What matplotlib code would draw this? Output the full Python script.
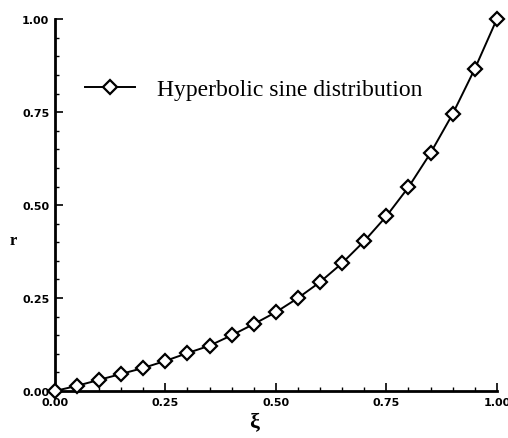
import matplotlib.pyplot as plt
import numpy as np

xi = [0.00, 0.05, 0.10, 0.15, 0.20, 0.25, 0.30, 0.35, 0.40, 0.45, 0.50,
      0.55, 0.60, 0.65, 0.70, 0.75, 0.80, 0.85, 0.90, 0.95, 1.00]
r = [0.000, 0.014, 0.030, 0.046, 0.062, 0.081, 0.102, 0.122, 0.150, 0.180, 0.212,
     0.250, 0.293, 0.344, 0.403, 0.470, 0.548, 0.640, 0.745, 0.866, 1.000]
ticks = [0.00, 0.25, 0.50, 0.75, 1.00]
tick_labels = ['0.00', '0.25', '0.50', '0.75', '1.00']

fig = plt.figure(figsize=(5.08, 4.39), dpi=100)
ax = fig.add_axes([0.108, 0.107, 0.870, 0.847])

ax.plot(xi, r, color='black', lw=1.4, marker='D', markersize=7,
        markerfacecolor='white', markeredgecolor='black', markeredgewidth=1.6,
        label='Hyperbolic sine distribution', clip_on=False, zorder=3)

ax.set_xlim(0, 1)
ax.set_ylim(0, 1)
ax.set_xticks(ticks)
ax.set_yticks(ticks)
ax.set_xticklabels(tick_labels, fontsize=8, fontweight='bold')
ax.set_yticklabels(tick_labels, fontsize=8, fontweight='bold')
ax.set_xticks(np.arange(0, 1.0001, 0.05), minor=True)
ax.set_yticks(np.arange(0, 1.0001, 0.05), minor=True)
ax.tick_params(which='major', direction='in', length=6, width=1.2, pad=4)
ax.tick_params(which='minor', direction='in', length=3, width=1.0)

for s in ['top', 'right']:
    ax.spines[s].set_visible(False)
for s in ['left', 'bottom']:
    ax.spines[s].set_linewidth(2)

ax.set_xlabel('ξ', fontsize=16, family='Liberation Serif', fontweight='bold')
ax.xaxis.set_label_coords(0.45, -0.055)
ax.xaxis.label.set_va('top')
ax.set_ylabel('r', fontsize=12, family='Liberation Serif', fontweight='bold',
              rotation=0, va='center')
ax.yaxis.set_label_coords(-0.095, 0.405)

ax.legend(loc='center left', bbox_to_anchor=(0.068, 0.812), frameon=False,
          borderpad=0, borderaxespad=0, handlelength=2.1, handletextpad=0.95,
          prop={'family': 'Liberation Serif', 'size': 17})

fig.savefig('out.png', dpi=100)
